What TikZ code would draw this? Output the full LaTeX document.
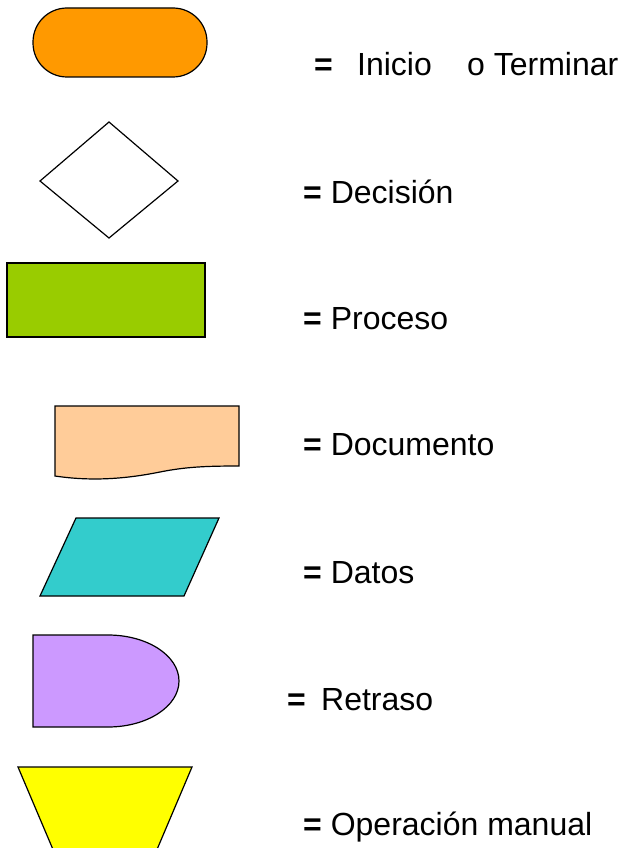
\documentclass[tikz,border=0pt]{standalone}
\usepackage{fontspec}
\setmainfont{Liberation Sans}
\definecolor{cOrange}{HTML}{FF9900}
\definecolor{cGreen}{HTML}{99CC00}
\definecolor{cPeach}{HTML}{FFCC99}
\definecolor{cTeal}{HTML}{33CCCC}
\definecolor{cPurple}{HTML}{CC99FF}
\definecolor{cYellow}{HTML}{FFFF00}
\tikzset{
  shp/.style={draw=black, line width=1.2pt, line join=miter},
  lbl/.style={anchor=base west, inner sep=0pt, font=\fontsize{32}{38}\selectfont},
}
\begin{document}
\begin{tikzpicture}[x=1pt,y=-1pt]
\useasboundingbox (0,0) rectangle (628,848);
% Inicio o Terminar
\draw[shp, fill=cOrange, rounded corners=34pt] (33,8) rectangle (207,77);
\node[lbl] (eq1) at (314,76) {\textbf{=}};
\node[lbl] (t1a) at (357,76) {Inicio};
\node[lbl] (t1b) at (467,76) {o Terminar};
% Decision
\draw[shp, fill=white] (109,122) -- (178,181) -- (109,238) -- (40,181) -- cycle;
\node[lbl] (t2) at (303,203) {\textbf{=} Decisión};
% Proceso
\draw[shp, fill=cGreen] (7,263) rectangle (205,337);
\node[lbl] (t3) at (303,329) {\textbf{=} Proceso};
% Documento
\draw[shp, fill=cPeach] (55,476) -- (55,406) -- (239,406) -- (239,466)
  .. controls (205,466) and (185,467) .. (160,472)
  .. controls (130,478) and (95,482) .. (55,476) -- cycle;
\node[lbl] (t4) at (303,455) {\textbf{=} Documento};
% Datos
\draw[shp, fill=cTeal] (76,518) -- (219,518) -- (184,596) -- (40,596) -- cycle;
\node[lbl] (t5) at (303,583) {\textbf{=} Datos};
% Retraso
\draw[shp, fill=cPurple] (33,635) -- (108,635) arc[start angle=-90, end angle=90, x radius=71, y radius=46] -- (33,727) -- cycle;
\node[lbl] (eq6) at (287,710) {\textbf{=}};
\node[lbl] (t6) at (321,710) {Retraso};
% Operacion manual
\begin{scope}
\clip (0,0) rectangle (628,848);
\draw[shp, fill=cYellow] (18,767) -- (192,767) -- (150,866) -- (60,866) -- cycle;
\end{scope}
\node[lbl] (t7) at (303,835) {\textbf{=} Operación manual};
\end{tikzpicture}
\end{document}
